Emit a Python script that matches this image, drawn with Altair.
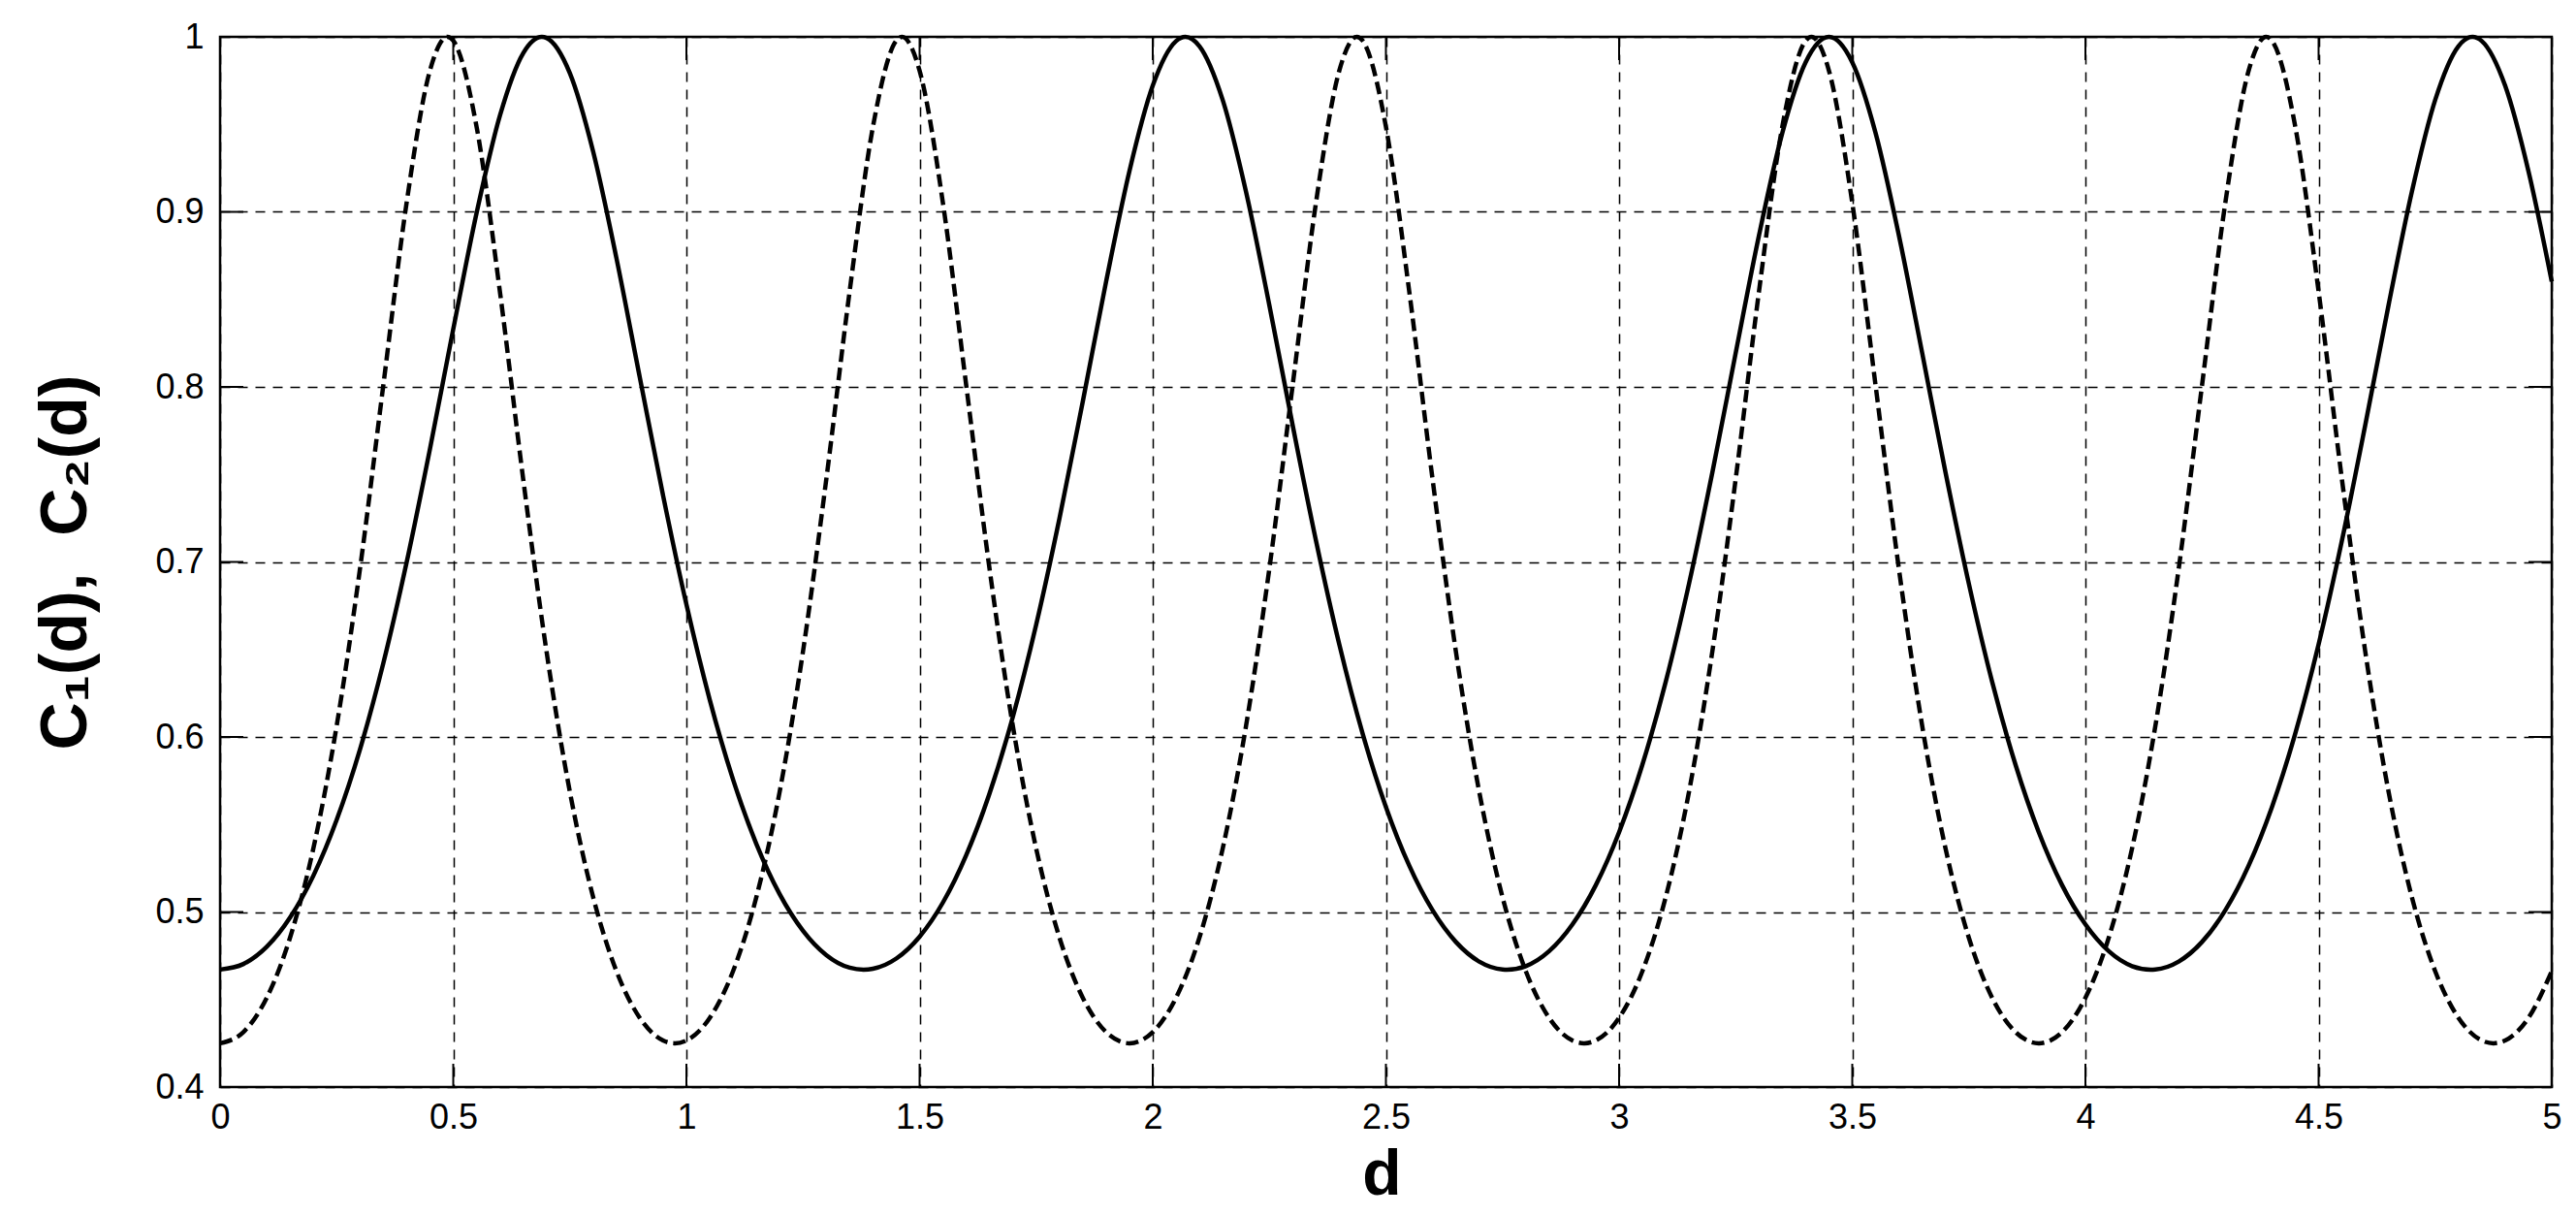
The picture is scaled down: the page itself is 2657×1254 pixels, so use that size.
import altair as alt
import pandas as pd

# ---- data ----
d1 = [0.00, 0.05, 0.10, 0.15, 0.20, 0.25, 0.30, 0.35, 0.40, 0.45, 0.50, 0.55, 0.60, 0.65, 0.69,
      0.70, 0.75, 0.80, 0.85, 0.90, 0.95, 1.00, 1.05, 1.10, 1.15, 1.20, 1.25, 1.30, 1.35, 1.38, 1.40,
      1.45, 1.50, 1.55, 1.60, 1.65, 1.70, 1.75, 1.80, 1.85, 1.90, 1.95, 2.00, 2.05, 2.07,
      2.10, 2.15, 2.20, 2.25, 2.30, 2.35, 2.40, 2.45, 2.50, 2.55, 2.60, 2.65, 2.70, 2.75, 2.76,
      2.80, 2.85, 2.90, 2.95, 3.00, 3.05, 3.10, 3.15, 3.20, 3.25, 3.30, 3.35, 3.40, 3.45,
      3.50, 3.55, 3.60, 3.65, 3.70, 3.75, 3.80, 3.85, 3.90, 3.95, 4.00, 4.05, 4.10, 4.14, 4.15,
      4.20, 4.25, 4.30, 4.35, 4.40, 4.45, 4.50, 4.55, 4.60, 4.65, 4.70, 4.75, 4.80, 4.83,
      4.85, 4.90, 4.95, 5.00]
c1 = [0.4671, 0.4703, 0.4801, 0.4968, 0.5207, 0.5526, 0.5929, 0.6421, 0.6997, 0.7645, 0.8330, 0.8993,
      0.9549, 0.9907, 1.0000,
      0.9994, 0.9793, 0.9345, 0.8735, 0.8055, 0.7379, 0.6757, 0.6213, 0.5757, 0.5389, 0.5102, 0.4893,
      0.4754, 0.4682, 0.4671, 0.4676,
      0.4734, 0.4859, 0.5054, 0.5325, 0.5677, 0.6115, 0.6641, 0.7249, 0.7917, 0.8602, 0.9233, 0.9721,
      0.9976, 1.0000,
      0.9947, 0.9639, 0.9115, 0.8467, 0.7781, 0.7122, 0.6529, 0.6020, 0.5600, 0.5265, 0.5010, 0.4829,
      0.4717, 0.4672, 0.4671,
      0.4691, 0.4776, 0.4929, 0.5153, 0.5456, 0.5842, 0.6315, 0.6876, 0.7511, 0.8193, 0.8866, 0.9451,
      0.9855, 1.0000,
      0.9855, 0.9451, 0.8866, 0.8193, 0.7511, 0.6876, 0.6315, 0.5842, 0.5456, 0.5153, 0.4929, 0.4776,
      0.4691, 0.4671, 0.4672,
      0.4717, 0.4829, 0.5010, 0.5265, 0.5600, 0.6020, 0.6529, 0.7122, 0.7781, 0.8467, 0.9115, 0.9639,
      0.9947, 1.0000,
      0.9976, 0.9721, 0.9233, 0.8602]

d2 = [0.00, 0.05, 0.10, 0.15, 0.20, 0.25, 0.30, 0.35, 0.40, 0.45, 0.4875,
      0.50, 0.55, 0.60, 0.65, 0.70, 0.75, 0.80, 0.85, 0.90, 0.95, 0.975,
      1.00, 1.05, 1.10, 1.15, 1.20, 1.25, 1.30, 1.35, 1.40, 1.45, 1.4625,
      1.50, 1.55, 1.60, 1.65, 1.70, 1.75, 1.80, 1.85, 1.90, 1.95,
      2.00, 2.05, 2.10, 2.15, 2.20, 2.25, 2.30, 2.35, 2.40, 2.4375,
      2.45, 2.50, 2.55, 2.60, 2.65, 2.70, 2.75, 2.80, 2.85, 2.90, 2.925,
      2.95, 3.00, 3.05, 3.10, 3.15, 3.20, 3.25, 3.30, 3.35, 3.40, 3.4125,
      3.45, 3.50, 3.55, 3.60, 3.65, 3.70, 3.75, 3.80, 3.85, 3.90,
      3.95, 4.00, 4.05, 4.10, 4.15, 4.20, 4.25, 4.30, 4.35, 4.3875,
      4.40, 4.45, 4.50, 4.55, 4.60, 4.65, 4.70, 4.75, 4.80, 4.85, 4.875,
      4.90, 4.95, 5.00]
c2 = [0.4250, 0.4314, 0.4510, 0.4853, 0.5363, 0.6063, 0.6961, 0.8009, 0.9052, 0.9807, 1.0000,
      0.9978, 0.9487, 0.8546, 0.7473, 0.6489, 0.5688, 0.5085, 0.4662, 0.4395, 0.4266, 0.4250,
      0.4266, 0.4395, 0.4662, 0.5085, 0.5688, 0.6489, 0.7473, 0.8546, 0.9487, 0.9978, 1.0000,
      0.9807, 0.9052, 0.8009, 0.6961, 0.6063, 0.5363, 0.4853, 0.4510, 0.4314, 0.4250,
      0.4314, 0.4510, 0.4853, 0.5363, 0.6063, 0.6961, 0.8009, 0.9052, 0.9807, 1.0000,
      0.9978, 0.9487, 0.8546, 0.7473, 0.6489, 0.5688, 0.5085, 0.4662, 0.4395, 0.4266, 0.4250,
      0.4266, 0.4395, 0.4662, 0.5085, 0.5688, 0.6489, 0.7473, 0.8546, 0.9487, 0.9978, 1.0000,
      0.9807, 0.9052, 0.8009, 0.6961, 0.6063, 0.5363, 0.4853, 0.4510, 0.4314, 0.4250,
      0.4314, 0.4510, 0.4853, 0.5363, 0.6063, 0.6961, 0.8009, 0.9052, 0.9807, 1.0000,
      0.9978, 0.9487, 0.8546, 0.7473, 0.6489, 0.5688, 0.5085, 0.4662, 0.4395, 0.4266, 0.4250,
      0.4266, 0.4395, 0.4662]

x_ticks = [0, 0.5, 1, 1.5, 2, 2.5, 3, 3.5, 4, 4.5, 5]
y_ticks = [0.4, 0.5, 0.6, 0.7, 0.8, 0.9, 1.0]

x_title = "d"
y_title = "C\u2081(d),\u00a0\u00a0C\u2082(d)"

# ---- layout ----
W, H = 2405, 1083
TICK = 24
FONT = "Liberation Sans"

df1 = pd.DataFrame({"d": d1, "c": c1})
df2 = pd.DataFrame({"d": d2, "c": c2})
dfx = pd.DataFrame({"d": x_ticks})
dfy = pd.DataFrame({"c": y_ticks})

xscale = alt.Scale(domain=[0, 5], nice=False, zero=False)
yscale = alt.Scale(domain=[0.4, 1.0], nice=False, zero=False)

grid_dash = [10, 8]

xaxis = alt.Axis(
    values=x_ticks, format="~g", grid=True, ticks=False, domain=False,
    labelFont=FONT, labelFontSize=36, labelColor="black", labelPadding=14,
    labelFlush=False, labelOverlap=False,
    gridColor="black", gridDash=grid_dash, gridWidth=1.5, gridOpacity=1,
    title=x_title, titleFont=FONT, titleFontSize=66, titleFontWeight="bold",
    titleColor="black", titleX=1198, titleY=110, titleBaseline="alphabetic",
    titleAlign="center",
)
yaxis = alt.Axis(
    values=y_ticks, format="~g", grid=True, ticks=False, domain=False,
    labelFont=FONT, labelFontSize=36, labelColor="black", labelPadding=17,
    labelFlush=False, labelOverlap=False,
    gridColor="black", gridDash=grid_dash, gridWidth=1.5, gridOpacity=1,
    title=y_title, titleFont=FONT, titleFontSize=68, titleFontWeight="bold",
    titleColor="black", titleX=-139, titleY=H / 2, titleAngle=270,
    titleBaseline="alphabetic", titleAlign="center",
)

x_enc = alt.X("d:Q", scale=xscale, axis=xaxis)
y_enc = alt.Y("c:Q", scale=yscale, axis=yaxis)

xt_bottom = alt.Chart(dfx).mark_rule(color="black", strokeWidth=2).encode(
    x=x_enc, y=alt.value(H), y2=alt.value(H - TICK))
xt_top = alt.Chart(dfx).mark_rule(color="black", strokeWidth=2).encode(
    x=x_enc, y=alt.value(0), y2=alt.value(TICK))
yt_left = alt.Chart(dfy).mark_rule(color="black", strokeWidth=2).encode(
    y=y_enc, x=alt.value(0), x2=alt.value(TICK))
yt_right = alt.Chart(dfy).mark_rule(color="black", strokeWidth=2).encode(
    y=y_enc, x=alt.value(W), x2=alt.value(W - TICK))

dashed = alt.Chart(df2).mark_line(
    color="black", strokeWidth=4.5, strokeDash=[13, 6], interpolate="monotone"
).encode(x=x_enc, y=y_enc)

solid = alt.Chart(df1).mark_line(
    color="black", strokeWidth=4.5, interpolate="monotone"
).encode(x=x_enc, y=y_enc)

chart = alt.layer(xt_bottom, xt_top, yt_left, yt_right, dashed, solid).properties(
    width=W, height=H,
    padding={"left": 219, "top": 30, "right": 10, "bottom": 124},
    autosize=alt.AutoSizeParams(type="none"),
    background="white",
).configure_view(stroke="black", strokeWidth=2.5)

chart.save("out.html", embed_options={"renderer": "svg", "actions": False})
